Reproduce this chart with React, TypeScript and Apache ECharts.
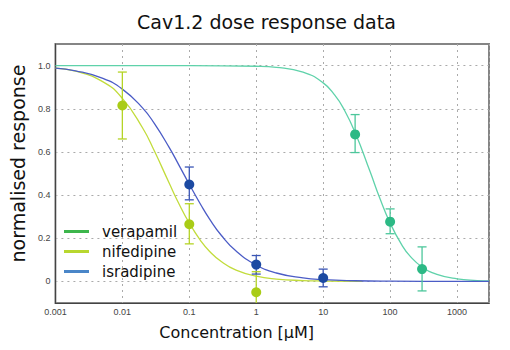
import React, { useEffect, useRef } from "react";
import * as echarts from "echarts";

const titleText = "Cav1.2 dose response data";
const xName = "Concentration [μM]";
const yName = "normalised response";
const drugs = ["verapamil", "nifedipine", "isradipine"];

const yMin = -0.1;
const yMax = 1.1;

// measured points: concentration, mean, lower, upper
const verapamilConc = [30, 100, 300];
const verapamilMean = [0.681, 0.277, 0.057];
const verapamilLo = [0.597, 0.221, -0.044];
const verapamilHi = [0.773, 0.336, 0.16];

const nifedipineConc = [0.01, 0.1, 1];
const nifedipineMean = [0.815, 0.265, -0.05];
const nifedipineLo = [0.66, 0.174, -0.145];
const nifedipineHi = [0.97, 0.36, 0.045];

const isradipineConc = [0.1, 1, 10];
const isradipineMean = [0.449, 0.078, 0.016];
const isradipineLo = [0.378, 0.034, -0.025];
const isradipineHi = [0.53, 0.12, 0.057];

// fitted curves
const verapamilCurveX = [0.001, 0.01, 0.1, 1, 2, 5, 10, 15, 20, 30, 50, 70, 100, 150, 200, 300, 500, 1000, 2000, 3000];
const verapamilCurveY = [1.0, 1.0, 1.0, 0.997, 0.992, 0.97, 0.92, 0.862, 0.803, 0.69, 0.51, 0.386, 0.27, 0.168, 0.116, 0.067, 0.033, 0.012, 0.004, 0.002];

const nifedipineCurveX = [0.001, 0.002, 0.005, 0.01, 0.02, 0.03, 0.05, 0.07, 0.1, 0.15, 0.2, 0.3, 0.5, 1, 2, 5, 10, 38];
const nifedipineCurveY = [0.988, 0.974, 0.927, 0.848, 0.712, 0.605, 0.456, 0.36, 0.27, 0.186, 0.14, 0.092, 0.052, 0.024, 0.011, 0.004, 0.002, 0.0];

const isradipineCurveX = [0.001, 0.002, 0.005, 0.01, 0.02, 0.03, 0.05, 0.07, 0.1, 0.15, 0.2, 0.3, 0.5, 1, 2, 5, 10, 30, 100, 1000, 3000];
const isradipineCurveY = [0.988, 0.976, 0.942, 0.891, 0.804, 0.732, 0.621, 0.539, 0.45, 0.353, 0.29, 0.214, 0.141, 0.076, 0.039, 0.016, 0.008, 0.003, 0.001, 0.0, 0.0];

const curveColors = ["#5fd2aa", "#c2dc3c", "#4b5cc6"];
const pointColors = ["#2cb985", "#a9cc16", "#1c4aa2"];
const barColors = ["#4cc79b", "#b5d426", "#3a55b5"];
const legendColors = ["#3db64c", "#b8d72f", "#4a86c8"];

const zip = (a: number[], b: number[]) => a.map((v, i) => [v, b[i]]);

export default function App() {
  const ref = useRef<HTMLDivElement>(null);
  useEffect(() => {
    if (!ref.current) return;
    const chart = echarts.init(ref.current, undefined, { renderer: "svg" });
    const curves = [
      zip(verapamilCurveX, verapamilCurveY),
      zip(nifedipineCurveX, nifedipineCurveY),
      zip(isradipineCurveX, isradipineCurveY),
    ];
    const concs = [verapamilConc, nifedipineConc, isradipineConc];
    const means = [verapamilMean, nifedipineMean, isradipineMean];
    const los = [verapamilLo, nifedipineLo, isradipineLo];
    const his = [verapamilHi, nifedipineHi, isradipineHi];

    const series: any[] = [];
    drugs.forEach((name, i) => {
      series.push({
        name,
        type: "line",
        data: curves[i],
        smooth: true,
        showSymbol: false,
        lineStyle: { color: curveColors[i], width: 1.3 },
        itemStyle: { color: curveColors[i] },
        z: 2,
      });
    });
    drugs.forEach((name, i) => {
      const segs: any[] = [];
      const caps: any[] = [];
      concs[i].forEach((c, j) => {
        const lo = los[i][j];
        const hi = his[i][j];
        segs.push([c, Math.max(lo, yMin)], [c, Math.min(hi, yMax)], [c, "-"]);
        if (lo >= yMin) caps.push([c, lo]);
        if (hi <= yMax) caps.push([c, hi]);
      });
      series.push({
        name: name + " error",
        type: "line",
        data: segs,
        showSymbol: false,
        connectNulls: false,
        lineStyle: { color: barColors[i], width: 1.3 },
        itemStyle: { color: barColors[i] },
        z: 3,
      });
      series.push({
        name: name + " caps",
        type: "scatter",
        data: caps,
        symbol: "rect",
        symbolSize: [9, 1.3],
        itemStyle: { color: barColors[i], opacity: 1 },
        z: 3,
      });
    });
    drugs.forEach((name, i) => {
      series.push({
        name: name + " data",
        type: "scatter",
        data: zip(concs[i], means[i]),
        symbolSize: 10,
        itemStyle: { color: pointColors[i], opacity: 1 },
        z: 4,
      });
    });

    chart.setOption({
      animation: false,
      backgroundColor: "#ffffff",
      title: {
        text: titleText,
        left: 132,
        top: 7,
        textStyle: { fontFamily: "DejaVu Sans", fontSize: 19, fontWeight: "normal", color: "#111" },
      },
      legend: {
        data: drugs.map((n, i) => ({ name: n, itemStyle: { color: legendColors[i] } })),
        orient: "vertical",
        left: 64,
        top: 224,
        icon: "rect",
        itemWidth: 25,
        itemHeight: 3,
        itemGap: 5,
        padding: 0,
        textStyle: { fontFamily: "DejaVu Sans", fontSize: 15, color: "#111", padding: [0, 0, 0, 8] },
      },
      grid: {
        left: 50,
        right: 21,
        top: 44,
        bottom: 47,
        show: true,
        borderColor: "#858585",
        borderWidth: 2,
        backgroundColor: "#fff",
      },
      xAxis: {
        type: "log",
        logBase: 10,
        min: 0.001,
        max: 3000,
        name: xName,
        nameLocation: "middle",
        nameGap: 21,
        nameTextStyle: { fontFamily: "DejaVu Sans", fontSize: 16, color: "#111", padding: [0, 71, 0, 0] },
        axisLine: { show: true, onZero: false, lineStyle: { color: "#444", width: 1 } },
        axisTick: { show: false },
        axisLabel: {
          margin: 4,
          fontFamily: "Liberation Sans",
          fontSize: 9,
          color: "#444",
          showMaxLabel: false,
          formatter: (v: number) => String(+Number(v).toPrecision(3)),
        },
        splitLine: { show: true, lineStyle: { color: "#aaa", type: [2, 4], width: 1 } },
      },
      yAxis: {
        type: "value",
        min: yMin,
        max: yMax,
        interval: 0.1,
        name: yName,
        nameLocation: "middle",
        nameGap: 14,
        nameTextStyle: { fontFamily: "DejaVu Sans", fontSize: 19, color: "#111", padding: [0, 0, 0, 20] },
        axisLine: { show: true, onZero: false, lineStyle: { color: "#444", width: 1 } },
        axisTick: { show: false },
        axisLabel: {
          margin: 5,
          fontFamily: "Liberation Sans",
          fontSize: 9,
          color: "#444",
          formatter: (v: number) => {
            const k = Math.round(v * 10);
            if (k < 0 || k > 10 || k % 2 !== 0) return "";
            if (k === 0) return "0";
            return (k / 10).toFixed(1);
          },
        },
        splitLine: { show: true, lineStyle: { color: ["rgba(0,0,0,0)", "#aaa"], type: [2, 4], width: 1 } },
      },
      series,
    });
    return () => chart.dispose();
  }, []);
  return (
    <div
      ref={ref}
      style={{ position: "fixed", left: 0, top: 0, width: 510, height: 350 }}
    />
  );
}
